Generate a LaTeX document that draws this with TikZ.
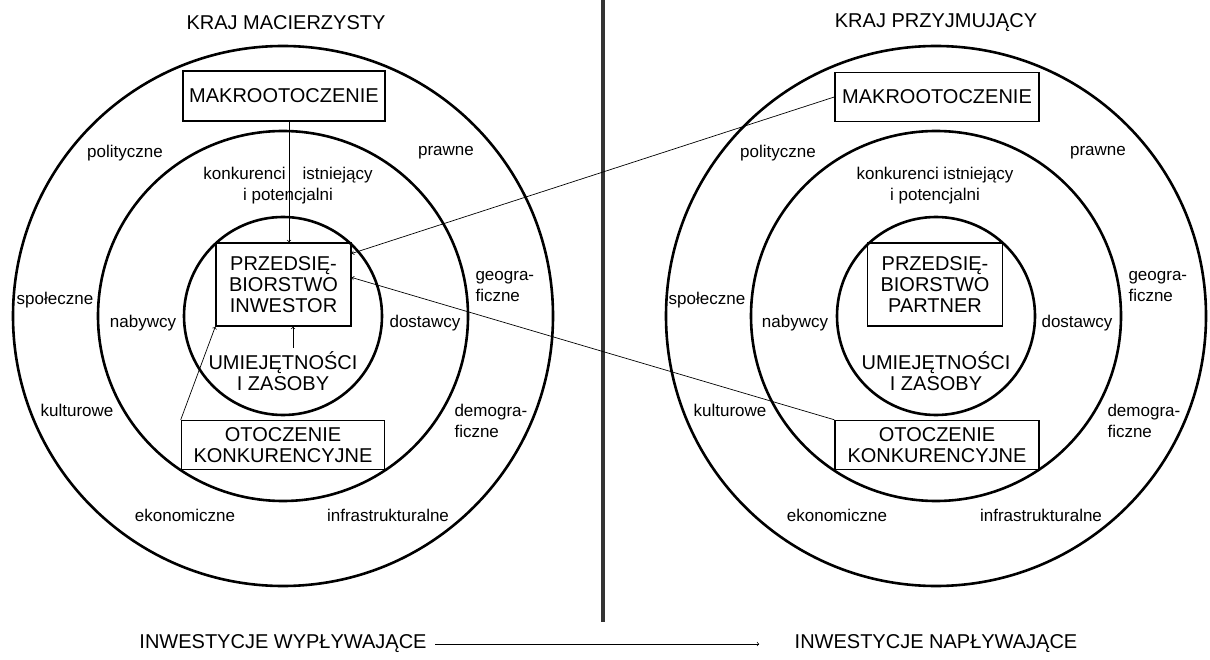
\documentclass[tikz,border=0pt]{standalone}
\usepackage{fontspec}
\setmainfont{Liberation Sans}
\usetikzlibrary{arrows, positioning}

\begin{document}
\begin{tikzpicture}[x=1pt, y=-1pt]
        \tikzstyle{ring} = [line width=2.6pt]
        \tikzstyle{box} = [rectangle, draw=black, line width=1.5pt, align=center, inner sep=2pt, font=\fontsize{20}{21}\selectfont]
        \tikzstyle{caps} = [align=center, font=\fontsize{20}{21}\selectfont]
        \tikzstyle{factor} = [align=center, font=\fontsize{17}{21}\selectfont]
        \tikzstyle{arrow} = [line width=0.7pt, ->, >=to]

        \useasboundingbox (0,0) rectangle (1210,660);

        % home country
        \draw [ring] (283,316) circle (270pt);
        \draw [ring] (283,316) circle (185pt);
        \draw [ring] (283,316) circle (99pt);

        \node (lkraj) [caps] at (286,23) {KRAJ MACIERZYSTY};
        \node (lmakro) [box, minimum width=202pt, minimum height=50pt] at (284,96) {MAKROOTOCZENIE};
        \node (lfirma) [box, minimum width=135pt, minimum height=83pt] at (283.5,284.5) {PRZEDSIĘ-\\BIORSTWO\\INWESTOR};
        \node (lzasoby) [caps] at (283,371) {UMIEJĘTNOŚCI\\I ZASOBY};
        \node (lotocz) [box, minimum width=203pt, minimum height=49pt] at (283,445) {OTOCZENIE\\KONKURENCYJNE};

        \node (lpol) [factor] at (125,153) {polityczne};
        \node (lpraw) [factor] at (446,153) {prawne};
        \node (lkonk) [factor] at (288,186) {konkurenci\hspace{17pt}istniejący\\i potencjalni};
        \node (lspol) [factor] at (55,300) {społeczne};
        \node (lnab) [factor] at (143,323) {nabywcy};
        \node (ldost) [factor] at (425,323) {dostawcy};
        \node (lgeo) [factor, anchor=west, align=left] at (472,287) {geogra-\\ficzne};
        \node (lkult) [factor] at (77,410) {kulturowe};
        \node (ldemo) [factor, anchor=west, align=left] at (451,421) {demogra-\\ficzne};
        \node (lekon) [factor] at (185,515) {ekonomiczne};
        \node (linfr) [factor] at (388,515) {infrastrukturalne};

        % host country
        \draw [ring] (936,316) circle (270pt);
        \draw [ring] (936,316) circle (185pt);
        \draw [ring] (936,316) circle (99pt);

        \node (rkraj) [caps] at (936,23) {KRAJ PRZYJMUJĄCY};
        \node (rmakro) [box, minimum width=204pt, minimum height=49pt] at (937,97) {MAKROOTOCZENIE};
        \node (rfirma) [box, minimum width=135pt, minimum height=83pt] at (935,284.5) {PRZEDSIĘ-\\BIORSTWO\\PARTNER};
        \node (rzasoby) [caps] at (936,371) {UMIEJĘTNOŚCI\\I ZASOBY};
        \node (rotocz) [box, minimum width=204pt, minimum height=49pt] at (937,445) {OTOCZENIE\\KONKURENCYJNE};

        \node (rpol) [factor] at (778,153) {polityczne};
        \node (rpraw) [factor] at (1098,153) {prawne};
        \node (rkonk) [factor] at (935,186) {konkurenci istniejący\\i potencjalni};
        \node (rspol) [factor] at (707,300) {społeczne};
        \node (rnab) [factor] at (795,323) {nabywcy};
        \node (rdost) [factor] at (1077,323) {dostawcy};
        \node (rgeo) [factor, anchor=west, align=left] at (1125,287) {geogra-\\ficzne};
        \node (rkult) [factor] at (730,410) {kulturowe};
        \node (rdemo) [factor, anchor=west, align=left] at (1104,421) {demogra-\\ficzne};
        \node (rekon) [factor] at (837,515) {ekonomiczne};
        \node (rinfr) [factor] at (1041,515) {infrastrukturalne};

        % divider
        \draw [line width=4pt, black!80] (603,0) -- (603,622);

        % flows
        \node (wyp) [caps] at (283,644) {INWESTYCJE WYPŁYWAJĄCE};
        \node (nap) [caps] at (936,644) {INWESTYCJE NAPŁYWAJĄCE};

        \draw [arrow] ([xshift=5pt]lmakro.south) -- ([xshift=5pt]lmakro.south |- lfirma.north);
        \draw [arrow] ([xshift=10pt]lzasoby.north) -- ([xshift=10pt]lzasoby.north |- lfirma.south);
        \draw [arrow] (lotocz.north west) -- (lfirma.south west);
        \draw [arrow] (rmakro.west) -- ([yshift=31pt]lfirma.east);
        \draw [arrow] (rotocz.north west) -- ([yshift=7pt]lfirma.east);
        \draw [arrow, shorten <=5pt] (wyp.east) -- ([xshift=-32pt]nap.west);
    \end{tikzpicture}
\end{document}
